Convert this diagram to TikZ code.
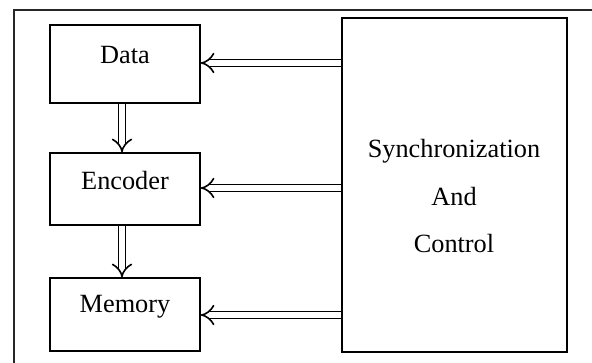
\documentclass[tikz,border=0pt]{standalone}
\usepackage{fontspec}
\setmainfont{Liberation Serif}
\usetikzlibrary{arrows.meta, positioning}
\tikzset{
	block/.style={draw, line width=1.5bp, rectangle, inner sep=0pt},
	txt/.style={font=\fontsize{26.4}{30}\selectfont, inner sep=0pt},
	link/.style={double, double distance=5.5bp, line width=1.6bp, -{Implies[scale=1.2]}},
}

\begin{document}
\begin{tikzpicture}[x=1bp, y=-1bp]
	\useasboundingbox (0,0) rectangle (592,362);
	
	% Outer frame (cropped)
	\draw[line width=1.2bp, black!85] (14,370) -- (14,10) -- (600,10);
	
	% Blocks
	\node[block, minimum width=150bp, minimum height=78bp,
		label={[txt, yshift=9bp]center:Data}] (data) at (125,64) {};
	\node[block, minimum width=150bp, minimum height=72bp,
		label={[txt, yshift=9bp]center:Encoder}] (encoder) at (125,189) {};
	\node[block, minimum width=150bp, minimum height=73bp,
		label={[txt, yshift=8bp]center:Memory}] (memory) at (125,314.5) {};
	\node[block, minimum width=225bp, minimum height=334bp] (sync) at (454.5,185) {};
	\node[txt, align=center, font=\fontsize{26.4}{48}\selectfont]
		(synctext) at (454,196) {Synchronization\\And\\Control};
	
	% Links
	\draw[link] (data.south -| 122,0) -- (encoder.north -| 122,0);
	\draw[link] (encoder.south -| 122,0) -- (memory.north -| 122,0);
	\draw[link] (sync.west |- 0,63) -- (data.east |- 0,63);
	\draw[link] (sync.west |- 0,188) -- (encoder.east |- 0,188);
	\draw[link] (sync.west |- 0,315) -- (memory.east |- 0,315);
\end{tikzpicture}
\end{document}
